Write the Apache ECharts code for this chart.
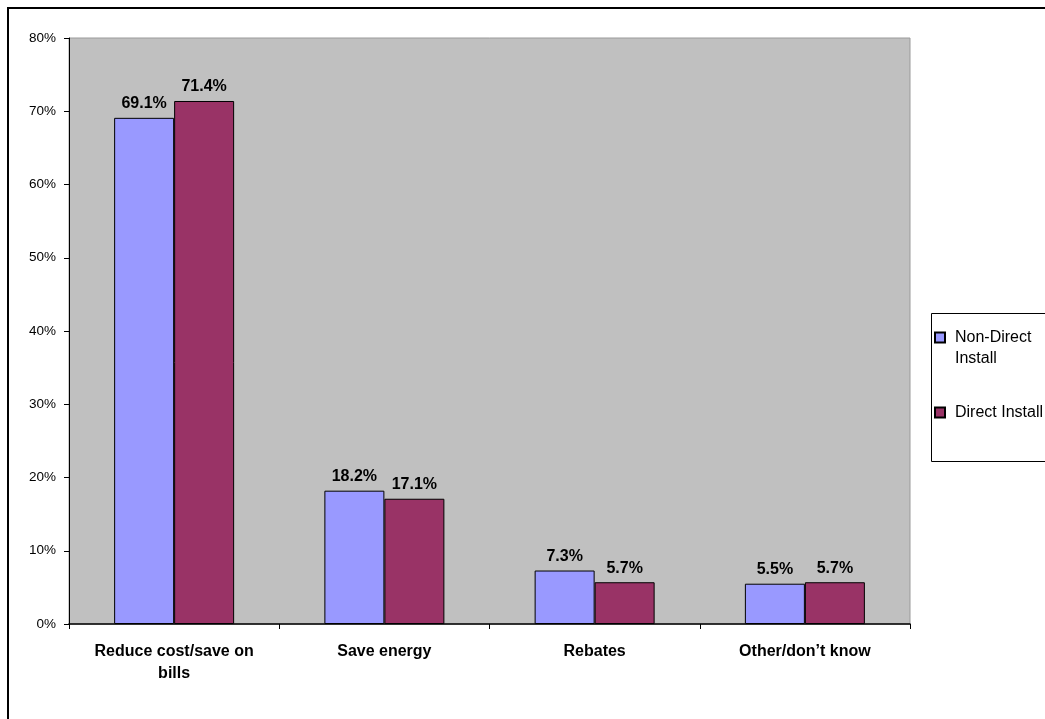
<!DOCTYPE html>
<html>
<head>
<meta charset="utf-8">
<title>Reasons for participating</title>
<script src="https://cdn.jsdelivr.net/npm/echarts@6/dist/echarts.min.js"></script>
<style>
  html, body { margin: 0; padding: 0; background: #ffffff; }
  #chart { width: 1045px; height: 719px; }
</style>
</head>
<body>
<div id="chart"></div>
<script>
// Survey categories and the share of respondents (percent) in each group
const categories = ['Reduce cost/save on\nbills', 'Save energy', 'Rebates', 'Other/don\u2019t know'];
const nonDirectInstall = [69.1, 18.2, 7.3, 5.5];
const directInstall = [71.4, 17.1, 5.7, 5.7];
const yTicks = { min: 0, max: 80, interval: 10 };

const FONT = '"Liberation Sans", Arial, sans-serif';

const chart = echarts.init(document.getElementById('chart'), null, { renderer: 'canvas' });

const labelStyle = {
  show: true,
  position: 'top',
  distance: 6,
  color: '#000',
  fontFamily: FONT,
  fontWeight: 'bold',
  fontSize: 16,
  formatter: p => p.value.toFixed(1) + '%'
};

chart.setOption({
  animation: false,
  backgroundColor: '#ffffff',
  textStyle: { fontFamily: FONT },
  graphic: [
    {
      // outer chart frame
      type: 'rect',
      shape: { x: 8, y: 8, width: 1100, height: 800 },
      style: { fill: 'none', stroke: '#000', lineWidth: 2 },
      silent: true
    },
    {
      // legend frame
      type: 'rect',
      shape: { x: 931.5, y: 313.5, width: 130, height: 148 },
      style: { fill: 'none', stroke: '#000', lineWidth: 1 },
      silent: true
    }
  ],
  grid: {
    left: 69,
    top: 38,
    right: 135,
    bottom: 95,
    show: true,
    backgroundColor: '#C0C0C0',
    borderColor: '#9a9a9a',
    borderWidth: 1
  },
  legend: {
    orient: 'vertical',
    left: 934,
    top: 306,
    itemWidth: 10,
    itemHeight: 10,
    itemGap: 33,
    icon: 'rect',
    padding: 0,
    textStyle: {
      fontFamily: FONT,
      fontSize: 16,
      color: '#000',
      lineHeight: 21,
      padding: [0, 0, 0, 5]
    },
    data: ['Non-Direct Install', 'Direct Install'],
    // a leading blank line keeps the first text line level with the swatch
    formatter: name => name === 'Non-Direct Install' ? '\nNon-Direct\nInstall' : name
  },
  xAxis: {
    type: 'category',
    data: categories,
    axisLine: { lineStyle: { color: '#000', width: 1.5 } },
    axisTick: { show: true, alignWithLabel: false, length: 5, lineStyle: { color: '#000' } },
    axisLabel: {
      margin: 17,
      color: '#000',
      fontFamily: FONT,
      fontWeight: 'bold',
      fontSize: 16,
      lineHeight: 22,
      interval: 0
    },
    splitLine: { show: false }
  },
  yAxis: {
    type: 'value',
    min: yTicks.min,
    max: yTicks.max,
    interval: yTicks.interval,
    axisLine: { show: true, lineStyle: { color: '#000', width: 1 } },
    axisTick: { show: true, length: 5, lineStyle: { color: '#000' } },
    axisLabel: {
      margin: 13,
      color: '#000',
      fontFamily: FONT,
      fontSize: 13.5,
      formatter: '{value}%'
    },
    splitLine: { show: false }
  },
  series: [
    {
      name: 'Non-Direct Install',
      type: 'bar',
      data: nonDirectInstall,
      barWidth: 60,
      barGap: '0%',
      itemStyle: { color: '#9999FF', borderColor: '#000', borderWidth: 1 },
      label: labelStyle
    },
    {
      name: 'Direct Install',
      type: 'bar',
      data: directInstall,
      barWidth: 60,
      barGap: '0%',
      itemStyle: { color: '#993366', borderColor: '#000', borderWidth: 1 },
      label: labelStyle
    }
  ]
});
</script>
</body>
</html>
